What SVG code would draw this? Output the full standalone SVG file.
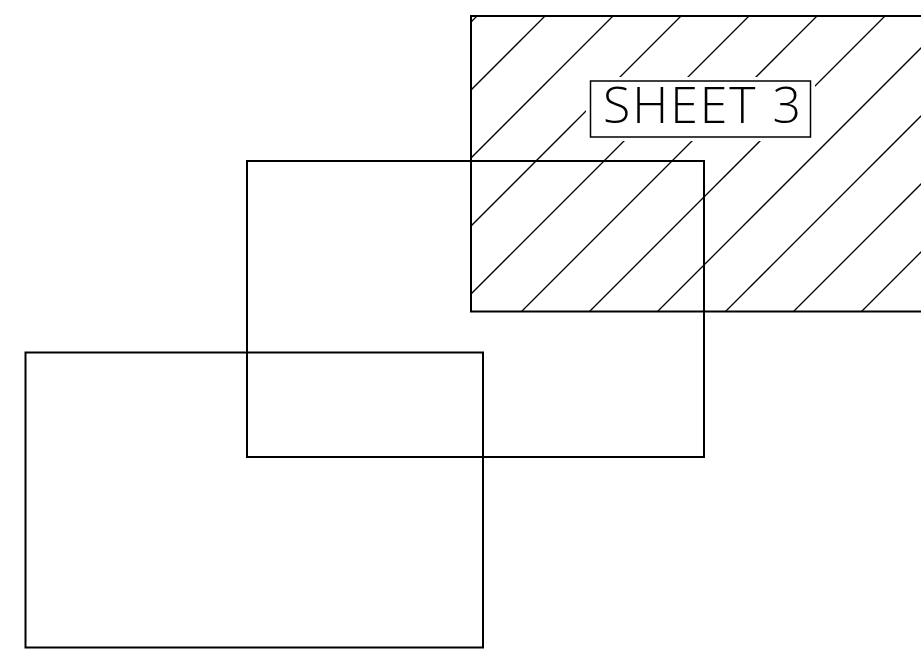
<svg xmlns="http://www.w3.org/2000/svg" width="921" height="650" viewBox="0 0 921 650">
<style>
.sheet{fill:none;stroke:#000;stroke-width:2}
.hatch{stroke:#000;stroke-width:1.3;fill:none}
.lbl{font-family:"Open Sans","Liberation Sans",sans-serif;font-weight:300;font-size:50px;fill:#000}
</style>
<defs>
<clipPath id="clip3"><rect x="471" y="16" width="460" height="295.5"/></clipPath>
</defs>
<rect width="921" height="650" fill="#fff"/>
<g id="sheet3">
<g class="hatch" clip-path="url(#clip3)">
<line x1="93" y1="400" x2="593" y2="-100"/>
<line x1="161" y1="400" x2="661" y2="-100"/>
<line x1="229" y1="400" x2="729" y2="-100"/>
<line x1="297" y1="400" x2="797" y2="-100"/>
<line x1="365" y1="400" x2="865" y2="-100"/>
<line x1="433" y1="400" x2="933" y2="-100"/>
<line x1="501" y1="400" x2="1001" y2="-100"/>
<line x1="569" y1="400" x2="1069" y2="-100"/>
<line x1="637" y1="400" x2="1137" y2="-100"/>
<line x1="705" y1="400" x2="1205" y2="-100"/>
<line x1="773" y1="400" x2="1273" y2="-100"/>
<line x1="841" y1="400" x2="1341" y2="-100"/>
<line x1="909" y1="400" x2="1409" y2="-100"/>
</g>
<rect class="sheet" x="471" y="16" width="470" height="295.5"/>
<g id="label3">
<rect x="586" y="77" width="229" height="64" fill="#fff"/>
<rect x="590.5" y="81" width="220" height="56" fill="#fff" stroke="#000" stroke-width="1.5"/>
<text class="lbl" x="603" y="123" textLength="198" lengthAdjust="spacing">SHEET 3</text>
</g>
</g>
<g id="sheet2">
<rect class="sheet" x="247" y="161" width="457" height="296"/>
</g>
<g id="sheet1">
<rect class="sheet" x="25.5" y="352.5" width="457.5" height="295"/>
</g>
<g id="connectors"/>
</svg>
